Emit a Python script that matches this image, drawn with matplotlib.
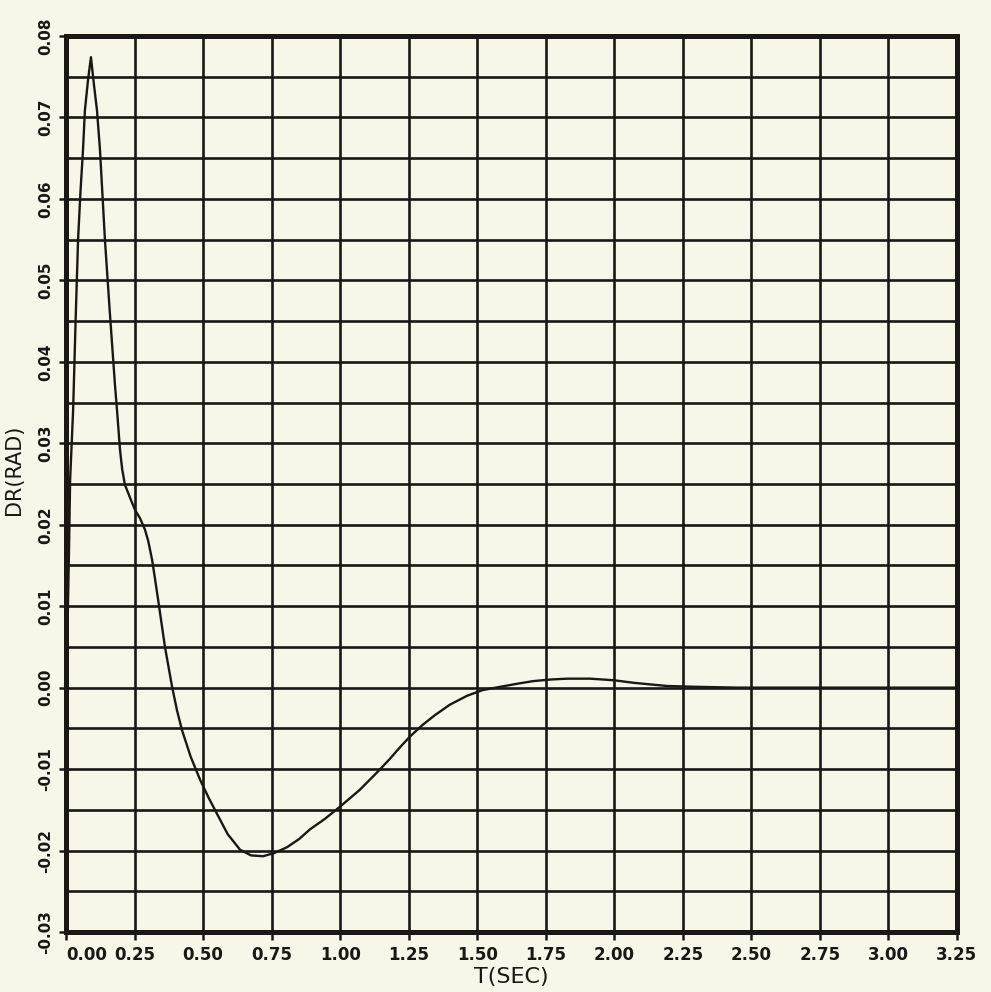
import numpy as np
import matplotlib
matplotlib.use("Agg")
import matplotlib.pyplot as plt

# Rudder deflection response DR (rad) versus time T (sec)
t_sec = [0.000, 0.006, 0.011, 0.015, 0.026, 0.035, 0.044, 0.053, 0.062, 0.069,
         0.080, 0.091, 0.102, 0.113, 0.124, 0.142, 0.160, 0.179, 0.186, 0.197,
         0.205, 0.215, 0.235, 0.252, 0.270, 0.288, 0.300, 0.314, 0.325, 0.336,
         0.361, 0.387, 0.405, 0.423, 0.455, 0.489, 0.520, 0.551, 0.590, 0.635,
         0.675, 0.719, 0.760, 0.806, 0.850, 0.890, 0.945, 1.000, 1.070, 1.135,
         1.180, 1.219, 1.255, 1.300, 1.345, 1.400, 1.463, 1.520, 1.584, 1.650,
         1.704, 1.770, 1.828, 1.912, 2.000, 2.069, 2.130, 2.193, 2.300, 2.450,
         2.600, 2.800, 3.000, 3.250]
dr_rad = [0.0000, 0.0080, 0.0170, 0.0255, 0.0341, 0.0450, 0.0550, 0.0610, 0.0660, 0.0709,
          0.0745, 0.0774, 0.0740, 0.0709, 0.0660, 0.0550, 0.0460, 0.0370, 0.0341, 0.0292,
          0.0268, 0.0249, 0.0232, 0.0218, 0.0208, 0.0194, 0.0180, 0.0157, 0.0133, 0.0108,
          0.0050, 0.0001, -0.0028, -0.0052, -0.0085, -0.0113, -0.0135, -0.0155, -0.0180, -0.0199,
          -0.0206, -0.0207, -0.0203, -0.0196, -0.0186, -0.0174, -0.0161, -0.0146, -0.0126, -0.0104,
          -0.0088, -0.0073, -0.0060, -0.0046, -0.0034, -0.0021, -0.0010, -0.0003, 0.0001, 0.0005,
          0.0008, 0.0010, 0.0011, 0.0011, 0.0009, 0.0006, 0.0004, 0.0002, 0.0001, 0.0000,
          0.0000, 0.0000, 0.0000, 0.0000]

x_ticks = [0.00, 0.25, 0.50, 0.75, 1.00, 1.25, 1.50, 1.75, 2.00, 2.25, 2.50, 2.75, 3.00, 3.25]
x_labels = ["0.00", "0.25", "0.50", "0.75", "1.00", "1.25", "1.50", "1.75",
            "2.00", "2.25", "2.50", "2.75", "3.00", "3.25"]
y_ticks = [-0.03, -0.02, -0.01, 0.00, 0.01, 0.02, 0.03, 0.04, 0.05, 0.06, 0.07, 0.08]
y_labels = ["-0.03", "-0.02", "-0.01", "0.00", "0.01", "0.02", "0.03",
            "0.04", "0.05", "0.06", "0.07", "0.08"]

paper = "#f8f6e9"
ink = "#1c1714"

fig = plt.figure(figsize=(9.91, 9.92), dpi=100, facecolor=paper)
ax = fig.add_axes([0.0666, 0.0605, 0.899, 0.9032], facecolor=paper)

ax.set_xlim(0, 3.25)
ax.set_ylim(-0.03, 0.08)

# plotter grid: every 0.25 s and every 0.005 rad
for xv in np.arange(0.25, 3.25, 0.25):
    ax.axvline(xv, color=ink, lw=1.9, zorder=1)
for yv in np.arange(-0.025, 0.08, 0.005):
    ax.axhline(yv, color=ink, lw=1.9, zorder=1)

ax.plot(t_sec, dr_rad, color=ink, lw=1.7, zorder=3,
        solid_joinstyle="round", solid_capstyle="round")

for s in ax.spines.values():
    s.set_color(ink)
    s.set_linewidth(3.6)
    s.set_zorder(4)

ax.set_xticks(x_ticks)
ax.set_xticklabels(x_labels, fontsize=12, fontweight="bold", color=ink)
ax.set_yticks(y_ticks)
ax.set_yticklabels(y_labels, fontsize=11, fontweight="bold", color=ink,
                   rotation=90, va="center")
ax.tick_params(axis="x", direction="out", length=6, width=1.8, color=ink, pad=4)
ax.tick_params(axis="y", direction="out", length=5, width=1.8, color=ink, pad=4)
ax.get_xticklabels()[0].set_horizontalalignment("left")

ax.set_xlabel("T(SEC)", fontsize=16, color=ink, labelpad=2)
ax.set_ylabel("DR(RAD)", fontsize=15, color=ink)
ax.yaxis.set_label_coords(-0.047, 0.516)

fig.savefig("out.png", dpi=100, facecolor=paper)
